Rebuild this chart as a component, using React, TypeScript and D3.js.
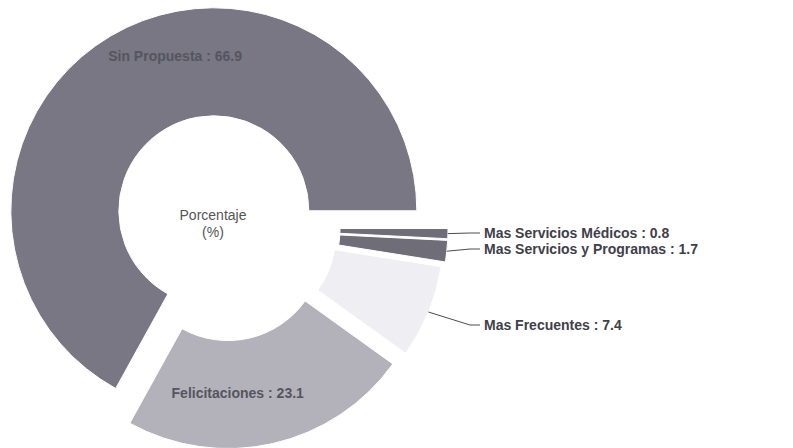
import React from 'react';
import * as d3 from 'd3';

// data, in drawing order starting at 3 o'clock, clockwise
const categories = [
  'Mas Servicios Médicos',
  'Mas Servicios y Programas',
  'Mas Frecuentes',
  'Felicitaciones',
  'Sin Propuesta',
];
const values = [0.8, 1.7, 7.4, 23.1, 66.9];

const colors = ['#6f6e78', '#6f6e78', '#efeff3', '#b3b2ba', '#787783'];
const explode = [21, 21, 18, 18, 20];
const insideLabel = [false, false, false, true, true];

const width = 793;
const height = 448;
const cx = 224;
const cy = 228;
const outerR = 203;
const innerR = 95;

// outside label rows (y centre of the text)
const labelRows = [233, 249, 325];
const labelX = 484;

type Slice = d3.PieArcDatum<number>;

const App = () => {
  const pie = d3.pie<number>().sort(null).startAngle(Math.PI / 2).endAngle(Math.PI / 2 + 2 * Math.PI);
  const arcs = pie(values);
  const arc = d3.arc<Slice>().innerRadius(innerR).outerRadius(outerR);

  const offsetOf = (a: Slice, i: number) => {
    const mid = (a.startAngle + a.endAngle) / 2;
    return [Math.sin(mid) * explode[i], -Math.cos(mid) * explode[i]];
  };

  // small nudges for the labels drawn on the slices
  const insideNudge: Record<number, [number, number]> = { 3: [-23, 2], 4: [37, -26] };

  return (
    <div style={{ position: 'absolute', left: 0, top: 0 }}>
      <svg width={width} height={height} style={{ display: 'block', background: '#fff' }}
        fontFamily="'Liberation Sans', Arial, sans-serif">
        {arcs.map((a, i) => {
          const [dx, dy] = offsetOf(a, i);
          return (
            <path key={categories[i]} d={arc(a) || ''} transform={`translate(${cx + dx},${cy + dy})`}
              fill={colors[i]} stroke="#ffffff" strokeWidth={1} />
          );
        })}

        {arcs.map((a, i) => {
          if (!insideLabel[i]) return null;
          const [dx, dy] = offsetOf(a, i);
          const c = d3.arc<Slice>().innerRadius((innerR + outerR) / 2).outerRadius((innerR + outerR) / 2).centroid(a);
          const n = insideNudge[i] || [0, 0];
          return (
            <text key={'in' + i} x={cx + dx + c[0] + n[0]} y={cy + dy + c[1] + n[1]} textAnchor="middle"
              dominantBaseline="central" fontSize={14} fontWeight="bold" fill="#55555f">
              {`${categories[i]} : ${values[i]}`}
            </text>
          );
        })}

        {arcs.map((a, i) => {
          if (insideLabel[i]) return null;
          const [dx, dy] = offsetOf(a, i);
          const mid = (a.startAngle + a.endAngle) / 2;
          const sx = cx + dx + Math.sin(mid) * outerR;
          const sy = cy + dy - Math.cos(mid) * outerR;
          const ly = labelRows[i];
          const elbowX = labelX - 14;
          return (
            <g key={'out' + i}>
              <polyline points={`${sx},${sy} ${elbowX},${ly} ${labelX - 4},${ly}`} fill="none"
                stroke="#4a4a55" strokeWidth={1} />
              <text x={labelX} y={ly} dominantBaseline="central" fontSize={14} fontWeight="bold" fill="#40404a">
                {`${categories[i]} : ${values[i]}`}
              </text>
            </g>
          );
        })}

        <text x={213} y={215} textAnchor="middle" dominantBaseline="central" fontSize={14} fill="#555">Porcentaje</text>
        <text x={213} y={232} textAnchor="middle" dominantBaseline="central" fontSize={14} fill="#555">(%)</text>
      </svg>
    </div>
  );
};

export default App;
